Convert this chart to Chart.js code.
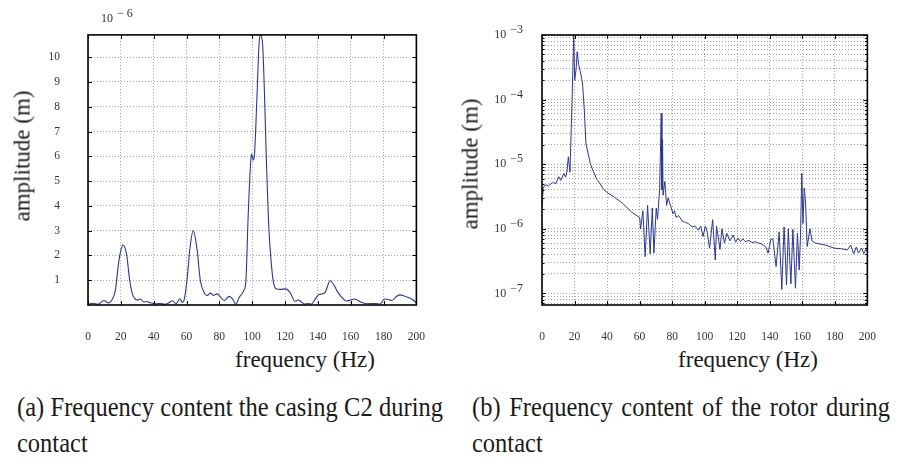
<!DOCTYPE html>
<html>
<head>
<meta charset="utf-8">
<script src="https://cdn.jsdelivr.net/npm/chart.js@4.4.1/dist/chart.umd.min.js"></script>
<style>
  body{margin:0;background:#fff;width:901px;height:459px;overflow:hidden;position:relative;color:#1a1a1a;
    font-family:"Liberation Serif","Times New Roman",Times,"DejaVu Serif",serif}
  canvas{position:absolute;top:0}
  .t{position:absolute;white-space:nowrap;line-height:1}
  .xt{font-size:23px;transform:translateX(-50%)}
  .yt{font-size:23px;transform:translate(-50%,-50%) rotate(-90deg)}
  .exp{font-size:12px;color:#333}
  .exp span{position:relative;top:-5px;margin-left:4px;letter-spacing:3px}
  .cap{position:absolute;font-size:24.5px;line-height:25px;text-align:justify;text-align-last:justify;transform:scaleY(1.1);transform-origin:0 0}
  .cap2{position:absolute;font-size:24.5px;line-height:25px;transform:scaleY(1.1);transform-origin:0 0}
</style>
</head>
<body>
<canvas id="ca" width="450" height="345" style="left:0"></canvas>
<canvas id="cb" width="451" height="345" style="left:450px"></canvas>

<div class="t exp" style="left:101px;top:12px">10<span>&minus;6</span></div>
<div class="t yt" style="left:22px;top:156px">amplitude (m)</div>
<div class="t yt" style="left:470px;top:164px">amplitude (m)</div>
<div class="t xt" style="left:305px;top:348px">frequency (Hz)</div>
<div class="t xt" style="left:748px;top:348px">frequency (Hz)</div>

<div class="cap" style="left:17px;top:393px;width:426px">(a) Frequency content the casing C2 during</div>
<div class="cap2" style="left:17px;top:429px">contact</div>
<div class="cap" style="left:472px;top:393px;width:418px">(b) Frequency content of the rotor during</div>
<div class="cap2" style="left:472px;top:429px">contact</div>

<script>
// (a) casing C2, amplitude in units of 1e-6 m
const freqA=[0,3,6,9.7,12.5,14.5,16.7,18.6,20,21.3,23.4,25.4,27,28.3,30,32,34,36,38,41.5,44,47,49,51.5,53.5,56,57.5,58.5,
  60.3,62.2,64.1,66.5,68.4,70.9,72.5,74.5,76.4,78.7,81,83,86,88,90,92,95,96.2,97.5,99,99.6,100.6,101.3,102.9,104,104.8,
  106.2,107.5,108.7,110,111.6,113,114.5,117.4,120.3,123.3,126,128,130,132,134,136,138.5,140.7,143,144.5,147.5,150,152.3,
  155,157.2,160,162,164,166,170,175,178,180.5,183,185,188,190,193,196,198,200];
const ampA=[0.03,0.07,0.03,0.18,0.08,0.2,0.6,1.68,2.2,2.42,2.08,1.0,0.45,0.28,0.2,0.24,0.12,0.14,0.09,0.05,0.06,0.03,0.08,0.17,0.05,0.25,0.1,0.2,
  1.0,2.35,3.0,2.2,1.0,0.48,0.38,0.48,0.39,0.45,0.3,0.18,0.35,0.25,0.03,0.3,0.6,1.0,3.5,5.7,6.1,5.85,6.0,8.4,10.3,10.9,
  10.65,8.5,5.7,3.3,1.7,0.9,0.66,0.63,0.65,0.48,0.15,0.2,0.12,0.04,0.06,0.04,0.25,0.42,0.45,0.52,0.98,0.78,0.5,
  0.28,0.16,0.2,0.24,0.2,0.12,0.05,0.06,0.04,0.24,0.22,0.18,0.35,0.41,0.35,0.28,0.2,0.08];

// (b) rotor, amplitude in m
const freqB=[0,0.8,2.5,4,5.5,7,8.5,10.3,11.5,13.4,14.5,15.3,16.2,17.2,18.5,19.5,20.1,21,21.6,22.6,23.6,24.9,26,27,28.5,29.8,31.5,
  33.7,35.7,37.5,39.6,43.5,49.4,55.2,60,60.6,62,63.4,64.9,66.5,67.8,68.8,70.2,71,72.3,72.8,73.3,73.7,74.1,74.4,75.5,76.6,
  77.5,78.5,79.5,80.5,81.5,82.4,84,86.4,88.3,90,92.2,94,96.1,97.6,99,100.4,101.5,103,104.9,106.5,107.3,109.4,110.6,112.2,
  113.6,115.5,117.5,119,120.5,122,123.4,125,127.3,129,131,133.2,135,137.4,139,140.6,141.9,143.9,145.8,147.4,148.8,150.3,
  151.4,153,154.2,155.8,157,158.1,158.9,159.7,160.4,161.2,162,163,164.7,166,168.2,171,174,177,179.9,184,187.7,189.7,191.6,
  193.2,194.5,196.5,197.8,199,200];
const ampB=[2.3e-6,4.4e-6,4.8e-6,4.6e-6,5.0e-6,5.2e-6,5.0e-6,6.4e-6,5.6e-6,7.2e-6,6.3e-6,7.5e-6,1.3e-5,7.5e-6,1.0e-4,1.0e-3,2.0e-4,3.0e-4,5.5e-4,3.4e-4,2.7e-4,1.8e-4,6.9e-5,2.1e-5,1.4e-5,1.0e-5,7.8e-6,
  5.8e-6,5.0e-6,4.2e-6,3.7e-6,3.2e-6,2.5e-6,1.8e-6,1.5e-6,1.0e-6,1.9e-6,3.7e-7,2.3e-6,4.1e-7,2.1e-6,4.2e-7,2.1e-6,1.4e-6,4.0e-6,1.5e-5,6.1e-5,4.0e-6,2.4e-5,3.3e-6,5.4e-6,2.3e-6,
  3.0e-6,2.5e-6,2.1e-6,1.7e-6,1.9e-6,1.5e-6,1.6e-6,1.3e-6,1.25e-6,1.2e-6,1.07e-6,1.1e-6,9.5e-7,1.1e-6,7.6e-7,1.1e-6,9e-7,5e-7,1.38e-6,3.3e-7,1.1e-6,4.8e-7,1.0e-6,6e-7,
  8.5e-7,6.5e-7,8e-7,6.2e-7,7.2e-7,6.3e-7,7e-7,6.3e-7,6.6e-7,6.1e-7,6.3e-7,6e-7,5.8e-7,5.3e-7,4.2e-7,6.8e-7,7e-7,2.6e-7,8.9e-7,1.15e-7,1.07e-6,1.35e-7,
  1.0e-6,1.4e-7,9.8e-7,1.2e-7,8.5e-7,2.3e-7,8e-7,7.2e-6,1.2e-6,4.3e-6,2.5e-6,5.3e-7,1.0e-6,6.5e-7,6e-7,5.8e-7,5.6e-7,5.3e-7,5e-7,4.9e-7,4.7e-7,5.6e-7,4.1e-7,
  5.2e-7,4.2e-7,5e-7,4.1e-7,4.8e-7,4.4e-7];

const xTicks=[0,20,40,60,80,100,120,140,160,180,200];
const yTicksA=[1,2,3,4,5,6,7,8,9,10];
const decadesB=[1e-7,1e-6,1e-5,1e-4,1e-3];
const minorSteps=[2,3,4,5,6,7,8,9];
const yMinB=6.6e-8, yMaxB=1e-3;

const LINE='#2b3794', GRID='#a3a3a3';
const FONT='"Liberation Serif","Times New Roman",Times,"DejaVu Serif",serif';

// log grid: decades plus 2..9 in between
const yTicksB=[];
[1e-8].concat(decadesB).forEach(d=>{
  if(d>=yMinB&&d<=yMaxB)yTicksB.push(d);
  if(d<yMaxB)minorSteps.forEach(m=>{const v=m*d;if(v>=yMinB&&v<yMaxB)yTicksB.push(v);});
});

// black frame with inward ticks
const frame={id:'frame',afterDatasetsDraw(c){
  const a=c.chartArea,x=c.ctx,sx=c.scales.x,sy=c.scales.y;
  x.save();x.strokeStyle='#000';x.lineWidth=1;x.beginPath();
  sx.ticks.forEach(t=>{const p=Math.round(sx.getPixelForValue(t.value))+0.5;
    x.moveTo(p,a.bottom);x.lineTo(p,a.bottom-4);x.moveTo(p,a.top);x.lineTo(p,a.top+4);});
  sy.ticks.forEach(t=>{const p=Math.round(sy.getPixelForValue(t.value))+0.5;
    const L=(sy.type==='logarithmic'&&!decadesB.includes(t.value))?2.5:4;
    x.moveTo(a.left,p);x.lineTo(a.left+L,p);x.moveTo(a.right,p);x.lineTo(a.right-L,p);});
  x.stroke();
  x.lineWidth=1.6;x.strokeRect(a.left,a.top,a.right-a.left,a.bottom-a.top);
  x.restore();}};

// 10^-n labels for the log axis
const logLabels={id:'logLabels',afterDraw(c){
  const s=c.scales.y,x=c.ctx,right=c.chartArea.left-16;
  x.save();x.fillStyle='#333';x.textBaseline='middle';x.textAlign='left';
  x.font='12px '+FONT;
  decadesB.forEach(v=>{
    const p=s.getPixelForValue(v),e='\u2212'+Math.round(-Math.log10(v));
    const wb=x.measureText('10').width, we=x.measureText(e).width+3;
    x.fillText(e,right-we,p-5);
    x.fillText('10',right-we-4-wb,p);
  });
  x.restore();}};

const tickFont={family:FONT,size:11.5};
const gridOpt={color:GRID,lineWidth:1,drawTicks:false};
const borderOpt={display:false,dash:[1,2]};

new Chart(document.getElementById('ca'),{
  type:'line',
  data:{datasets:[{data:freqA.map((f,i)=>({x:f,y:ampA[i]})),borderColor:LINE,borderWidth:1.1,pointRadius:0,
    cubicInterpolationMode:'monotone',fill:false}]},
  options:{responsive:false,animation:false,events:[],
    layout:{padding:{top:34,right:18,left:0,bottom:0}},
    plugins:{legend:{display:false},tooltip:{enabled:false}},
    scales:{
      x:{type:'linear',min:0,max:200,
        afterBuildTicks:s=>{s.ticks=xTicks.map(v=>({value:v}));},
        afterFit:s=>{s.height=40;},
        ticks:{autoSkip:false,maxRotation:0,padding:25,color:'#333',font:tickFont},
        grid:gridOpt,border:borderOpt},
      y:{type:'linear',min:0,max:10.9,
        afterBuildTicks:s=>{s.ticks=yTicksA.map(v=>({value:v}));},
        afterFit:s=>{s.width=88;},
        ticks:{padding:28,color:'#333',font:tickFont},
        grid:gridOpt,border:borderOpt}
    }},
  plugins:[frame]
});

new Chart(document.getElementById('cb'),{
  type:'line',
  data:{datasets:[{data:freqB.map((f,i)=>({x:f,y:ampB[i]})),borderColor:LINE,borderWidth:1,pointRadius:0,
    tension:0,fill:false}]},
  options:{responsive:false,animation:false,events:[],
    layout:{padding:{top:35,right:17,left:0,bottom:0}},
    plugins:{legend:{display:false},tooltip:{enabled:false}},
    scales:{
      x:{type:'linear',min:0,max:200,
        afterBuildTicks:s=>{s.ticks=xTicks.map(v=>({value:v}));},
        afterFit:s=>{s.height=40;},
        ticks:{autoSkip:false,maxRotation:0,padding:25,color:'#333',font:tickFont},
        grid:gridOpt,border:borderOpt},
      y:{type:'logarithmic',min:yMinB,max:yMaxB,
        afterBuildTicks:s=>{s.ticks=yTicksB.map(v=>({value:v,major:decadesB.includes(v)}));},
        afterFit:s=>{s.width=92;},
        ticks:{display:false},
        grid:gridOpt,border:borderOpt}
    }},
  plugins:[frame,logLabels]
});
</script>
</body>
</html>
